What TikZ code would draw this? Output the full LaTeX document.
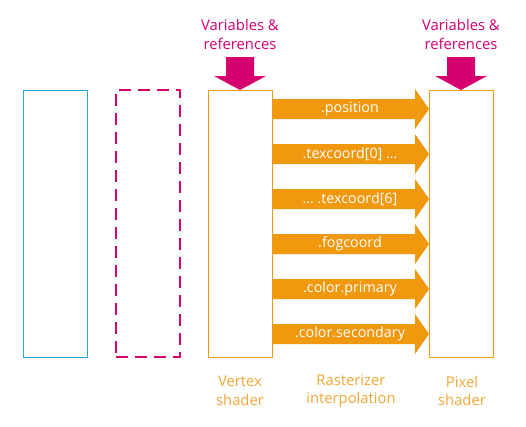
\documentclass[tikz,border=0pt]{standalone}
\usepackage{fontspec}
\setmainfont{Open Sans}
\usetikzlibrary{positioning}

\definecolor{streamorange}{RGB}{240,152,14}
\definecolor{captionorange}{RGB}{242,166,54}
\definecolor{refmagenta}{RGB}{214,0,111}
\definecolor{appblue}{RGB}{48,166,224}

\tikzset{
  stage/.style = {draw = #1, line width = 1pt, minimum width = 64pt, minimum height = 267pt, inner sep = 0pt},
  caption/.style = {text = captionorange, align = center, font = \fontsize{14.8}{18.5}\selectfont},
  reftext/.style = {text = refmagenta, align = center, font = \fontsize{14.8}{19}\selectfont},
}

\begin{document}
\begin{tikzpicture}[x = 1pt, y = -1pt]
		\useasboundingbox (0,0) rectangle (526,426);
		% Stages
		\node[stage = appblue] (app) at (55,223.5) {};                                              % application
		\node[stage = refmagenta, line width = 2pt, dash pattern = on 12pt off 7pt] (prog) at (147.5,223.5) {};   % program
		\node[stage = streamorange] (vs) at (240,223.5) {};                                          % vertex shader
		\node[stage = streamorange] (ps) at (461,223.5) {};                                          % pixel shader
		% Inputs from above
		\foreach \x/\name in {240/vsrefs, 461/psrefs} {
			\node[reftext] (\name) at (\x,34) {Variables \&\\references};
			\fill[refmagenta] (\x-14,57) -- (\x+14,57) -- (\x+14,76) -- (\x+26,76) -- (\x,90) -- (\x-26,76) -- (\x-14,76) -- cycle;
		}
		% Interpolated streams
		\foreach \yc/\label [count = \i] in {109/{.position}, 154/{.texcoord[0] …}, 199/{… .texcoord[6]}, 244/{.fogcoord}, 289/{.color.primary}, 334/{.color.secondary}} {
			\fill[streamorange] (272,\yc-10) -- (415,\yc-10) -- (415,\yc-20) -- (429,\yc) -- (415,\yc+20) -- (415,\yc+10) -- (272,\yc+10) -- cycle;
			\node[text = white, font = \fontsize{14.3}{16}\selectfont] (stream\i) at (350,\yc) {\label};
		}
		% Captions
		\node[caption] (vscap) at (240,391) {Vertex\\shader};
		\node[caption] (rastcap) at (351,391) {Rasterizer\\interpolation};
		\node[caption] (pscap) at (462,391) {Pixel\\shader};
	\end{tikzpicture}
\end{document}
